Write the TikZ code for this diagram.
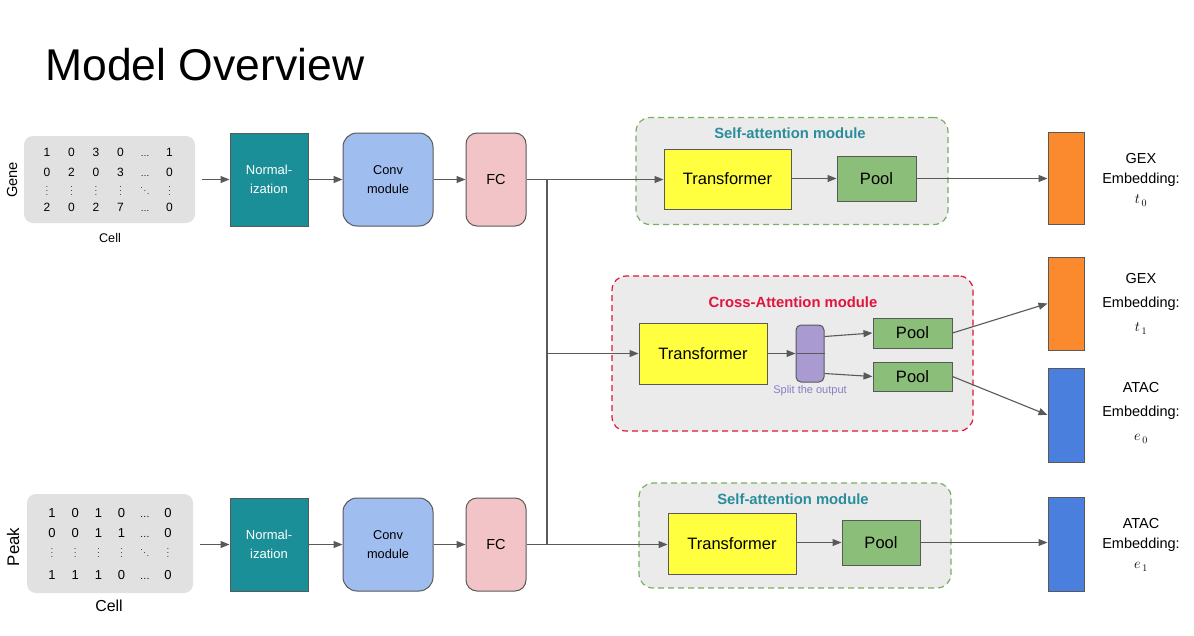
\documentclass[tikz,border=0pt]{standalone}
\usepackage{fontspec}
\setmainfont{Liberation Sans}
\usetikzlibrary{arrows.meta,matrix}
\definecolor{linegray}{HTML}{595959}
\definecolor{matgray}{HTML}{E1E1E1}
\definecolor{normteal}{HTML}{1A8F97}
\definecolor{convblue}{HTML}{9FBDEF}
\definecolor{fcpink}{HTML}{F2C3C7}
\definecolor{modbg}{HTML}{EBEBEB}
\definecolor{sagreen}{HTML}{78B062}
\definecolor{satitle}{HTML}{2A8D9C}
\definecolor{cared}{HTML}{E0143C}
\definecolor{tyellow}{HTML}{FFFF40}
\definecolor{poolgreen}{HTML}{8BBE78}
\definecolor{splitpurple}{HTML}{A99BD2}
\definecolor{splittext}{HTML}{8E7CC3}
\definecolor{emborange}{HTML}{FA8A2D}
\definecolor{embblue}{HTML}{4A7FDD}
\begin{document}
\begin{tikzpicture}[x=1pt,y=-1pt,
  box/.style={draw=linegray, line width=1pt, inner sep=0pt, align=center, text=black},
  conn/.style={draw=linegray, line width=1.1pt},
  arr/.style={conn, -{Triangle[length=9pt,width=7pt]}},
  modbox/.style={fill=modbg, dash pattern=on 6pt off 4pt, line width=1.2pt, rounded corners=14pt, inner sep=0pt},
  matbox/.style={fill=matgray, rounded corners=9pt, inner sep=0pt},
  tbox/.style={box, fill=tyellow, font=\fontsize{16.5}{18}\selectfont},
  poolbox/.style={box, fill=poolgreen, font=\fontsize{16.5}{18}\selectfont},
  normbox/.style={box, fill=normteal, text=white, minimum width=78pt, minimum height=93pt, font=\fontsize{13}{19}\selectfont},
  convbox/.style={box, fill=convblue, rounded corners=14pt, minimum width=90pt, minimum height=93pt, font=\fontsize{12.8}{19}\selectfont},
  fcbox/.style={box, fill=fcpink, rounded corners=11pt, minimum width=60pt, minimum height=93pt, font=\fontsize{14.5}{17}\selectfont},
  embbox/.style={box, minimum width=36pt},
  embtext/.style={align=center, inner sep=0pt},
  modtitle/.style={font=\bfseries\fontsize{14.8}{17}\selectfont, inner sep=0pt}
]
\fill[white] (0,0) rectangle (1194,635);
\useasboundingbox (0,0) rectangle (1194,635);

% title
\node (title) [anchor=base west, inner sep=0pt, font=\fontsize{44.5}{50}\selectfont] at (45,80) {Model Overview};

% ---------- gene input ----------
\node (genebox) [matbox, minimum width=171pt, minimum height=87pt] at (109.5,179.5) {};
\matrix (genemat) [matrix of nodes, inner sep=0pt, column sep=0pt, row sep=7.4pt,
  nodes={inner sep=0pt, minimum width=24.5pt, text height=8.6pt, text depth=0pt, font=\fontsize{12}{14}\selectfont}]
  at (108.25,179.5) {
  1 & 0 & 3 & 0 & \fontsize{9}{9}\selectfont … & 1 \\[4pt]
  0 & 2 & 0 & 3 & \fontsize{9}{9}\selectfont … & 0 \\[3pt]
  \fontsize{8}{8}\selectfont$\vdots$ & \fontsize{8}{8}\selectfont$\vdots$ & \fontsize{8}{8}\selectfont$\vdots$ & \fontsize{8}{8}\selectfont$\vdots$ & \fontsize{8}{8}\selectfont$\ddots$ & \fontsize{8}{8}\selectfont$\vdots$ \\
  2 & 0 & 2 & 7 & \fontsize{9}{9}\selectfont … & 0 \\
};
\node (genelab) [rotate=90, inner sep=0pt, font=\fontsize{14.6}{16}\selectfont] at (12,180) {Gene};
\node (genecell) [inner sep=0pt, font=\fontsize{12.6}{14}\selectfont] at (110,238) {Cell};

\node (norm1) [normbox] at (269,179.5) {Normal-\\ization};
\node (conv1) [convbox] at (388,179.5) {Conv\\module};
\node (fc1) [fcbox] at (496,179.5) {FC};

% ---------- peak input ----------
\node (peakbox) [matbox, minimum width=166pt, minimum height=99pt] at (110,543.5) {};
\matrix (peakmat) [matrix of nodes, inner sep=0pt, column sep=0pt, row sep=10.7pt,
  nodes={inner sep=0pt, minimum width=23.2pt, text height=9.3pt, text depth=0pt, font=\fontsize{13}{15}\selectfont}]
  at (110,544) {
  1 & 0 & 1 & 0 & \fontsize{10}{10}\selectfont … & 0 \\
  0 & 0 & 1 & 1 & \fontsize{10}{10}\selectfont … & 0 \\
  \fontsize{8}{8}\selectfont$\vdots$ & \fontsize{8}{8}\selectfont$\vdots$ & \fontsize{8}{8}\selectfont$\vdots$ & \fontsize{8}{8}\selectfont$\vdots$ & \fontsize{8}{8}\selectfont$\ddots$ & \fontsize{8}{8}\selectfont$\vdots$ \\[2pt]
  1 & 1 & 1 & 0 & \fontsize{10}{10}\selectfont … & 0 \\
};
\node (peaklab) [rotate=90, inner sep=0pt, font=\fontsize{16.8}{18}\selectfont] at (13,547) {Peak};
\node (peakcell) [inner sep=0pt, font=\fontsize{15.9}{18}\selectfont] at (109,606) {Cell};

\node (norm2) [normbox] at (269,544.5) {Normal-\\ization};
\node (conv2) [convbox] at (388,544.5) {Conv\\module};
\node (fc2) [fcbox] at (496,544.5) {FC};

% ---------- self-attention 1 ----------
\node (sa1) [modbox, draw=sagreen, minimum width=312pt, minimum height=107pt] at (792,171) {};
\node (sa1t) [modtitle, text=satitle] at (790,133) {Self-attention module};
\node (trans1) [tbox, minimum width=127pt, minimum height=60pt] at (727.5,179) {Transformer};
\node (pool1) [poolbox, minimum width=79pt, minimum height=45pt] at (876.5,178.5) {Pool};

% ---------- cross-attention ----------
\node (ca) [modbox, draw=cared, minimum width=361pt, minimum height=155pt] at (792.5,353.5) {};
\node (cat) [modtitle, text=cared] at (793,302) {Cross-Attention module};
\node (transca) [tbox, minimum width=128pt, minimum height=61pt] at (703,353.5) {Transformer};
\node (split) [box, fill=splitpurple, rounded corners=5pt, minimum width=28pt, minimum height=57pt] at (810,353.5) {};
\draw[draw=linegray, line width=1pt] (split.west) -- (split.east);
\node (splitt) [inner sep=0pt, text=splittext, font=\fontsize{11}{13}\selectfont] at (810,391) {Split the output};
\node (poola) [poolbox, minimum width=79pt, minimum height=30pt] at (912.5,333) {Pool};
\node (poolb) [poolbox, minimum width=79pt, minimum height=29pt] at (912.5,376.5) {Pool};

% ---------- self-attention 2 ----------
\node (sa2) [modbox, draw=sagreen, minimum width=312pt, minimum height=105pt] at (795,535.5) {};
\node (sa2t) [modtitle, text=satitle] at (793,499) {Self-attention module};
\node (trans2) [tbox, minimum width=128pt, minimum height=61pt] at (732,543.5) {Transformer};
\node (pool2) [poolbox, minimum width=78pt, minimum height=45pt] at (881,542.5) {Pool};

% ---------- embeddings ----------
\node (gex0) [embbox, fill=emborange, minimum height=92pt] at (1066,178) {};
\node (gex1) [embbox, fill=emborange, minimum height=93pt] at (1066,303.5) {};
\node (atac0) [embbox, fill=embblue, minimum height=94pt] at (1066,415) {};
\node (atac1) [embbox, fill=embblue, minimum height=94pt] at (1066,544) {};

\node (gex0t) [embtext, font=\fontsize{14.5}{20}\selectfont] at (1141,180) {GEX\\Embedding:\\$t_{\,0}$};
\node (gex1t) [embtext, font=\fontsize{14.5}{24}\selectfont] at (1141,304) {GEX\\Embedding:\\$t_{\,1}$};
\node (atac0t) [embtext, font=\fontsize{14.5}{24}\selectfont] at (1141,413) {ATAC\\Embedding:\\$e_{\,0}$};
\node (atac1t) [embtext, font=\fontsize{14.5}{20}\selectfont] at (1141,545) {ATAC\\Embedding:\\$e_{\,1}$};

% ---------- connectors ----------
\coordinate (j1) at (547,179.5);
\coordinate (j2) at (547,353.5);
\coordinate (j3) at (547,544.5);

\draw[arr, shorten <=7pt] (genebox.east) -- (norm1.west);
\draw[arr] (norm1.east) -- (conv1.west);
\draw[arr] (conv1.east) -- (fc1.west);
\draw[conn] (fc1.east) -- (j1);
\draw[arr] (j1) -- (trans1.west |- j1);
\draw[conn] (j1) -- (j3);
\draw[arr] (j2) -- (transca.west);

\draw[arr, shorten <=7pt] (peakbox.east |- norm2.west) -- (norm2.west);
\draw[arr] (norm2.east) -- (conv2.west);
\draw[arr] (conv2.east) -- (fc2.west);
\draw[conn] (fc2.east) -- (j3);
\draw[arr] (j3) -- (trans2.west |- j3);

\draw[arr] (trans1.east |- pool1.west) -- (pool1.west);
\draw[arr] (pool1.east) -- (gex0.west |- pool1.east);

\draw[arr] (transca.east) -- (split.west);
\draw[arr] ([yshift=17pt]split.east) -- (poola.west);
\draw[arr] ([yshift=-20pt]split.east) -- (poolb.west);
\draw[arr] (poola.east) -- (gex1.west);
\draw[arr] (poolb.east) -- (atac0.west);

\draw[arr] (trans2.east |- pool2.west) -- (pool2.west);
\draw[arr] (pool2.east) -- (atac1.west |- pool2.east);
\end{tikzpicture}
\end{document}
